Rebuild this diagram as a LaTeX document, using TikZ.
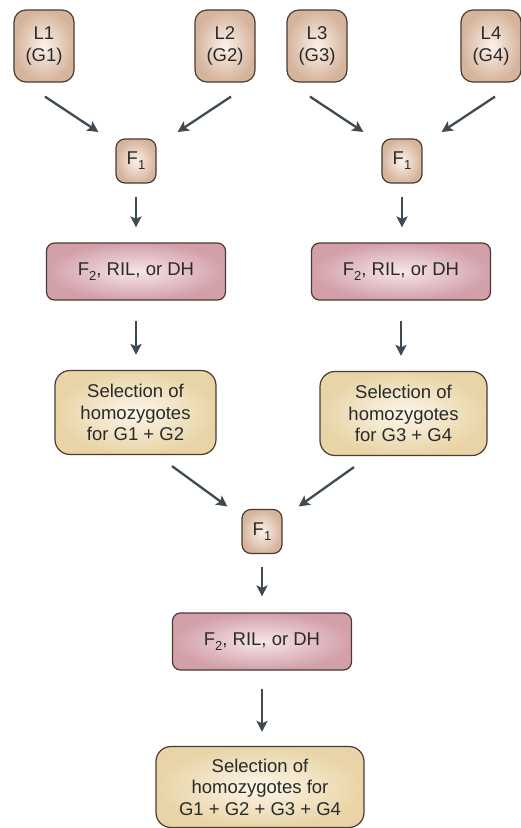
\documentclass[tikz,border=0pt]{standalone}
\usepackage{fontspec}
\setmainfont{Liberation Sans}
\usetikzlibrary{arrows.meta,calc}
\definecolor{edgecol}{HTML}{4A3B32}
\definecolor{arrcol}{HTML}{3F4A52}
\definecolor{tanout}{HTML}{D6B49C}
\definecolor{tanin}{HTML}{FBF1EA}
\definecolor{pinkout}{HTML}{D3A0AA}
\definecolor{pinkin}{HTML}{F6E6E9}
\definecolor{selout}{HTML}{E8D4A6}
\definecolor{selin}{HTML}{FCF6EA}
\definecolor{txt}{HTML}{2A2A2A}
\newcommand{\mysub}[1]{\raisebox{-0.28em}{\fontsize{13}{13}\selectfont #1}}
\tikzset{
  base/.style={draw=edgecol, line width=1.2pt, inner sep=0pt, align=center,
    font=\fontsize{18.5}{21.5}\selectfont, text=txt},
  parent/.style={base, rounded corners=12pt, minimum width=60pt, minimum height=72pt,
    shading=radial, inner color=tanin, outer color=tanout},
  fone/.style={base, rounded corners=9pt, minimum width=40pt, minimum height=44pt,
    shading=radial, inner color=tanin, outer color=tanout},
  popbox/.style={base, rounded corners=8pt, minimum width=179pt, minimum height=57pt,
    shading=radial, inner color=pinkin, outer color=pinkout},
  selbox/.style={base, rounded corners=15pt, minimum height=84pt,
    shading=radial, inner color=selin, outer color=selout},
  arr/.style={draw=arrcol, line width=2.3pt, -{Stealth[length=11pt,width=11pt,inset=2.5pt]}},
}
\begin{document}
\begin{tikzpicture}[x=1pt,y=-1pt]
\useasboundingbox (0,0) rectangle (520,828);
\node[parent] (L1) at (44,46) {L1\\(G1)};
\node[parent] (L2) at (225,46) {L2\\(G2)};
\node[parent] (L3) at (317,46) {L3\\(G3)};
\node[parent] (L4) at (491,46) {L4\\(G4)};
\node[fone] (Fa) at (136,161) {F\mysub{1}};
\node[fone] (Fb) at (402,161) {F\mysub{1}};
\node[popbox] (Pa) at (136,271.5) {F\mysub{2}, RIL, or DH};
\node[popbox] (Pb) at (401,271.5) {F\mysub{2}, RIL, or DH};
\node[selbox, minimum width=161pt] (Sa) at (135.5,412.5) {Selection of\\homozygotes\\for G1 + G2};
\node[selbox, minimum width=167pt] (Sb) at (403.5,413.5) {Selection of\\homozygotes\\for G3 + G4};
\node[fone] (Fc) at (262,531.5) {F\mysub{1}};
\node[popbox] (Pc) at (262,641.5) {F\mysub{2}, RIL, or DH};
\node[selbox, minimum width=208pt, minimum height=81pt] (Sc) at (260,787) {Selection of\\homozygotes for\\G1 + G2 + G3 + G4};

\draw[arr] ([shift={(1,14)}]L1.south) -- ([shift={(-17,-29)}]Fa.west);
\draw[arr] ([shift={(6,14)}]L2.south) -- ([shift={(21,-29)}]Fa.east);
\draw[arr] ([shift={(-7,14)}]L3.south) -- ([shift={(-18,-29)}]Fb.west);
\draw[arr] ([shift={(4,14)}]L4.south) -- ([shift={(19,-29)}]Fb.east);
\draw[arr] ($(Fa.south)+(0,13)$) -- ($(Fa.south |- Pa.north)+(0,-15)$);
\draw[arr] ($(Fb.south)+(0,13)$) -- ($(Fb.south |- Pb.north)+(0,-15)$);
\draw[arr] ($(Pa.south)+(0,20)$) -- ($(Pa.south |- Sa.north)+(0,-15)$);
\draw[arr] ($(Pb.south)+(0,20)$) -- ($(Pb.south |- Sb.north)+(0,-15)$);
\draw[arr] ([shift={(36.5,11)}]Sa.south) -- ([shift={(-14,-25)}]Fc.west);
\draw[arr] ([shift={(-49.5,11)}]Sb.south) -- ([shift={(16,-25)}]Fc.east);
\draw[arr] ($(Fc.south)+(0,13)$) -- ($(Fc.south |- Pc.north)+(0,-16)$);
\draw[arr] ($(Pc.south)+(0,18)$) -- ($(Pc.south |- Sc.north)+(0,-14)$);
\end{tikzpicture}
\end{document}
